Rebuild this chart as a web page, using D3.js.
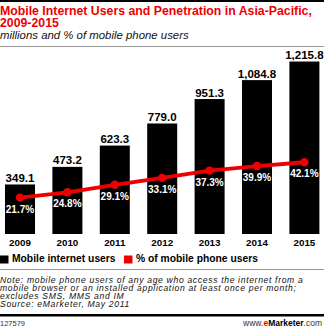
<!DOCTYPE html>
<html><head><meta charset="utf-8">
<script src="https://cdn.jsdelivr.net/npm/d3@7"></script>
<style>
body{margin:0;background:#fff;}
svg{display:block;font-family:"Liberation Sans",Arial,sans-serif;}
</style></head>
<body><svg id="c" width="324" height="329"></svg>
<script>
const years = ["2009","2010","2011","2012","2013","2014","2015"];
const users = [349.1, 473.2, 623.3, 779.0, 951.3, 1084.8, 1215.8];
const userLabels = ["349.1","473.2","623.3","779.0","951.3","1,084.8","1,215.8"];
const penetration = [21.7, 24.8, 29.1, 33.1, 37.3, 39.9, 42.1];
const penLabels = ["21.7%","24.8%","29.1%","33.1%","37.3%","39.9%","42.1%"];
const legendLabels = ["Mobile internet users", "% of mobile phone users"];
const noteLines = [
  "Note: mobile phone users of any age who access the internet from a",
  "mobile browser or an installed application at least once per month;",
  "excludes SMS, MMS and IM",
  "Source: eMarketer, May 2011"
];

const svg = d3.select("#c");
const RED = "#ee0000";

// top border
svg.append("rect").attr("x",0).attr("y",0).attr("width",324).attr("height",2).attr("fill","#000");

// title
const title = svg.append("text").attr("fill",RED).attr("font-weight","bold").attr("font-size",12.3);
title.append("tspan").attr("x",0).attr("y",15).text("Mobile Internet Users and Penetration in Asia-Pacific,");
title.append("tspan").attr("x",0).attr("y",26.5).text("2009-2015");
svg.append("text").attr("x",0).attr("y",38.5).attr("font-style","italic").attr("font-size",11.4)
  .attr("fill","#111").text("millions and % of mobile phone users");
svg.append("rect").attr("x",0).attr("y",46).attr("width",324).attr("height",1).attr("fill","#999");

// scales
const x = d3.scaleBand().domain(years).range([-3.7, 328.1]).paddingInner(0.367).paddingOuter(0.1835);
const y = d3.scaleLinear().domain([0, 1400]).range([234, 35.4]);
const yp = d3.scaleLinear().domain([0, 100]).range([235.3, 61.8]);

// bars
svg.append("g").selectAll("rect").data(users).join("rect")
  .attr("x",(d,i)=>x(years[i])).attr("width",x.bandwidth())
  .attr("y",d=>y(d)).attr("height",d=>y(0)-y(d)).attr("fill","#000");

svg.append("g").selectAll("text").data(users).join("text")
  .attr("x",(d,i)=>x(years[i])+x.bandwidth()/2).attr("y",d=>y(d)-2.5)
  .attr("text-anchor","middle").attr("font-weight","bold").attr("font-size",11.5)
  .text((d,i)=>userLabels[i]);

// x axis labels
const xAxis = d3.axisBottom(x).tickSize(0).tickPadding(0);
const gx = svg.append("g").attr("transform","translate(0,238)").call(xAxis);
gx.select(".domain").remove();
gx.selectAll("text").attr("font-family","Liberation Sans, Arial, sans-serif").attr("font-weight","bold")
  .attr("font-size",9.8).attr("fill","#000").attr("dy","0.8em");

// line
const line = d3.line().x((d,i)=>x(years[i])+x.bandwidth()/2).y(d=>yp(d));
svg.append("path").datum(penetration).attr("d",line).attr("fill","none")
  .attr("stroke",RED).attr("stroke-width",3.8).attr("stroke-linejoin","round");
svg.append("g").selectAll("circle").data(penetration).join("circle")
  .attr("cx",(d,i)=>x(years[i])+x.bandwidth()/2).attr("cy",d=>yp(d)).attr("r",4.2).attr("fill",RED);
svg.append("g").selectAll("text").data(penetration).join("text")
  .attr("x",(d,i)=>x(years[i])+x.bandwidth()/2).attr("y",d=>yp(d)+15)
  .attr("text-anchor","middle").attr("font-weight","bold").attr("font-size",10)
  .attr("fill","#fff").text((d,i)=>penLabels[i]);

// legend
const lg = svg.append("g");
lg.append("rect").attr("x",0).attr("y",255.5).attr("width",8.5).attr("height",8).attr("fill","#000");
lg.append("text").attr("x",12).attr("y",262.3).attr("font-weight","bold").attr("font-size",10.3).text(legendLabels[0]);
lg.append("rect").attr("x",124).attr("y",255.5).attr("width",8.5).attr("height",8).attr("fill",RED);
lg.append("text").attr("x",136).attr("y",262.3).attr("font-weight","bold").attr("font-size",10.3).text(legendLabels[1]);

// note
svg.append("rect").attr("x",0).attr("y",269).attr("width",324).attr("height",1).attr("fill","#999");
const note = svg.append("text").attr("font-style","italic").attr("font-size",8.6)
  .attr("letter-spacing",0.66).attr("fill","#111");
noteLines.forEach((t,i)=>note.append("tspan").attr("x",0).attr("y",283.3+i*7.9).text(t));

svg.append("rect").attr("x",0).attr("y",314).attr("width",324).attr("height",2.5).attr("fill","#000");
svg.append("text").attr("x",0).attr("y",325.5).attr("font-size",7.5).attr("fill","#333").text("127579");
const brand = svg.append("text").attr("x",322).attr("y",325.5).attr("text-anchor","end").attr("font-size",8.5).attr("fill","#333");
brand.append("tspan").text("www.");
brand.append("tspan").attr("fill",RED).attr("font-weight","bold").text("e");
brand.append("tspan").attr("fill","#000").attr("font-weight","bold").text("Marketer");
brand.append("tspan").text(".com");
</script></body></html>
